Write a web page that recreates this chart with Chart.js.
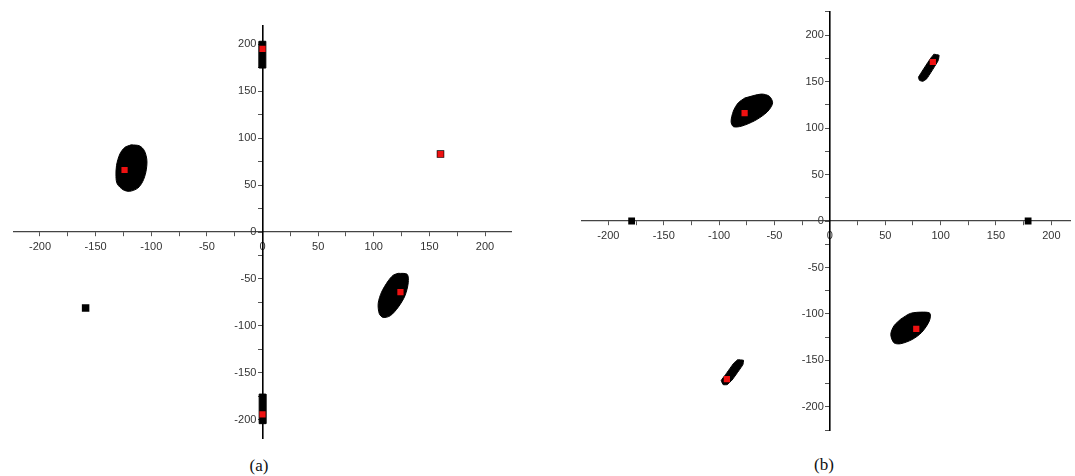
<!DOCTYPE html>
<html>
<head>
<meta charset="utf-8">
<script src="https://cdn.jsdelivr.net/npm/chart.js@4.4.1/dist/chart.umd.min.js"></script>
<style>
    body { margin: 0; background: #fff; width: 1075px; height: 476px; position: relative; overflow: hidden; }
    canvas { position: absolute; }
    #chartA { left: 8px; top: 20px; }
    #chartB { left: 577px; top: 7px; }
    .caption { position: absolute; font-family: "Liberation Serif", "Times New Roman", serif; font-size: 17px; color: #111; transform: translate(-50%, -50%); }
</style>
</head>
<body>
<canvas id="chartA" width="509" height="424"></canvas>
<canvas id="chartB" width="498" height="428"></canvas>
<div class="caption" style="left:259px; top:466px;">(a)</div>
<div class="caption" style="left:824px; top:465px;">(b)</div>

<script>
// Panel (a) data
const redA = [[-124, 66], [160, 83], [0, 195], [124, -64], [0, -194]];
const blackA = [[160, 83], [-159, -81]];
const blobA1 = [[-118, 92.8], [-110.6, 91.7], [-106.2, 86.6], [-103.9, 76.2], [-104.8, 64], [-107.7, 53.7], [-112.1, 46.7],
    [-119.4, 43.3], [-125.3, 45], [-130.6, 51.3], [-131.7, 58.8], [-131.2, 71], [-128.2, 83], [-123.8, 90]];
const blobA2 = [[122, -44], [130, -45], [131, -54], [128, -68], [122, -80], [115, -89], [108.5, -91], [105, -87],
    [104, -76], [107, -64], [113, -52], [117.5, -46]];
const barATop = [[-3, 174.5], [3, 174.5], [3, 203], [-3, 203]];
const barABottom = [[-3, -172.5], [3, -172.5], [3, -204], [-3, -204]];

// Panel (b) data
const redB = [[-77, 116], [93, 171], [78, -116], [-93, -170]];
const blackB = [[-179, 0], [179, 0]];
const blobB1 = [[-76.8, 132.3], [-62, 136.5], [-54.6, 134.1], [-51.7, 127.1], [-54.6, 120], [-59.1, 114.7], [-68, 107.8],
    [-79.8, 102], [-87.1, 101.5], [-89.2, 107], [-87.1, 118.3], [-82.7, 127.1]];
const blobB2 = [[93.9, 179.4], [98.6, 178.3], [97.7, 172.3], [87.5, 153], [83.9, 150.2], [80.9, 151.3], [80, 154.7], [90.4, 174.1]];
const blobB3 = [[63.8, -105.7], [72.7, -99.4], [84.5, -98], [90.4, -99.4], [89.8, -107.5], [83, -119.7], [74.2, -127.5],
    [63.8, -132], [57.9, -131], [55, -122], [57.9, -112.7]];
const blobB4 = [[-83.3, -149.2], [-78, -149.8], [-78.6, -154.7], [-88.3, -171], [-92.8, -176], [-96.3, -176],
    [-98.1, -171.5], [-94.2, -165.2], [-86.8, -152.9]];

// Axis settings
const tickStep = 25;
const labelStep = 50;

const toPts = arr => arr.map(([x, y]) => ({ x, y }));
const closed = arr => toPts(arr.concat([arr[0]]));

function blob(arr, tension) {
    return {
        type: 'line',
        data: closed(arr),
        borderColor: '#000',
        backgroundColor: '#000',
        borderWidth: 1,
        fill: 'shape',
        tension: tension,
        pointRadius: 0
    };
}

function squares(arr, color, r) {
    return {
        type: 'scatter',
        data: toPts(arr),
        pointStyle: 'rect',
        pointRadius: r,
        backgroundColor: color,
        borderColor: color,
        borderWidth: 0
    };
}

// Scales sit on the canvas edge, so drop the label padding they ask for
function zeroPadding(scale) {
    scale.paddingLeft = 0;
    scale.paddingRight = 0;
    scale.paddingTop = 0;
    scale.paddingBottom = 0;
}

function axis(min, max, pos, isX) {
    return {
        type: 'linear',
        min: min,
        max: max,
        position: pos,
        grid: { drawOnChartArea: false, drawTicks: true, tickLength: 4, color: '#555', lineWidth: 1 },
        border: { display: true, color: isX ? '#444' : '#000', width: isX ? 1.2 : 1.6 },
        ticks: {
            stepSize: tickStep,
            includeBounds: false,
            autoSkip: false,
            maxRotation: 0,
            padding: 4,
            color: '#333',
            font: { family: '"Liberation Sans", Arial, sans-serif', size: 11 },
            // centred y axis puts labels right on the line, so pad them with spaces
            callback: v => (v % labelStep === 0 ? (isX ? String(v) : v + '  ') : '')
        },
        afterFit: zeroPadding
    };
}

function makeChart(id, datasets, xr, yr) {
    new Chart(document.getElementById(id), {
        type: 'scatter',
        data: { datasets: datasets },
        options: {
            responsive: false,
            animation: false,
            layout: { padding: 0 },
            plugins: { legend: { display: false }, tooltip: { enabled: false } },
            scales: {
                x: axis(xr[0], xr[1], { y: 0 }, true),
                y: axis(yr[0], yr[1], { x: 0 }, false)
            }
        }
    });
}

// Red markers first so they are drawn on top
makeChart('chartA', [
    squares(redA, '#ee1111', 4.4),
    squares(blackA, '#000', 5.3),
    blob(blobA1, 0.3),
    blob(blobA2, 0.3),
    blob(barATop, 0),
    blob(barABottom, 0)
], [-224, 224], [-220, 220]);

makeChart('chartB', [
    squares(redB, '#ee1111', 4.4),
    squares(blackB, '#000', 4.8),
    blob(blobB1, 0.3),
    blob(blobB2, 0.1),
    blob(blobB3, 0.3),
    blob(blobB4, 0.1)
], [-224, 217], [-225, 225]);
</script>
</body>
</html>
